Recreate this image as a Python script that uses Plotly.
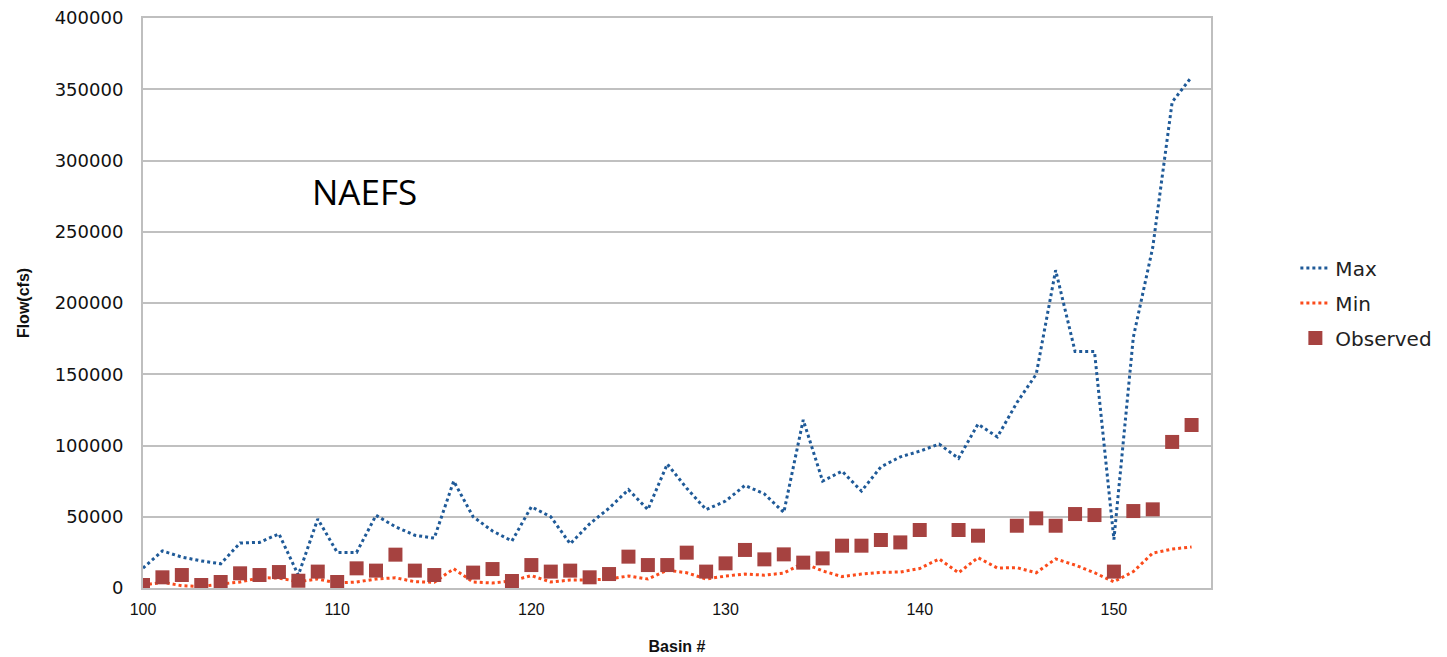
import plotly.graph_objects as go

basins = list(range(100, 155))

max_flow = [14000, 26000, 21700, 19000, 17000, 31600, 32000, 38000, 9000, 48500,
            25000, 25000, 51000, 43000, 37000, 35000, 75000, 50000, 40000, 33000,
            57000, 50000, 31000, 45000, 56000, 69000, 55000, 87000, 70000, 55000,
            61000, 72000, 66000, 53000, 118000, 75000, 82000, 68000, 85000, 92000,
            96000, 101000, 91000, 115000, 106000, 130000, 150000, 223000, 166000, 166000,
            34000, 176000, 239000, 341000, 358600]

min_flow = [2000, 4000, 1600, 1000, 2800, 4200, 7200, 7000, 4400, 6300,
            3500, 4200, 6300, 7200, 4400, 4000, 13500, 4200, 3500, 5000,
            8700, 4200, 5600, 5600, 6300, 8400, 6300, 12500, 10700, 6300,
            8400, 9800, 9000, 10500, 17500, 12000, 8000, 9800, 11000, 11200,
            13700, 20400, 10700, 21300, 14000, 14300, 10700, 20400, 16100, 10700,
            4400, 11500, 24500, 27300, 28800]

observed = [2100, 7500, 9100, 2100, 4200, 10300, 9100, 11200, 5100, 11500,
            4200, 13800, 12200, 23400, 12200, 9100, None, 10800, 13300, 4900,
            16100, 11500, 12200, 7500, 9800, 22000, 16100, 16100, 24800, 11500,
            17300, 26700, 20100, 23600, 17800, 20800, 29700, 29700, 33700, 32000,
            40700, None, 40700, 36700, None, 43700, 48900, 43700, 51900, 51200,
            11500, 54000, 55200, 102500, 114400]

x_ticks = [100, 110, 120, 130, 140, 150]
y_ticks = [0, 50000, 100000, 150000, 200000, 250000, 300000, 350000, 400000]

fig = go.Figure()
fig.add_trace(go.Scatter(x=basins, y=max_flow, mode="lines", name="Max", legendgroup="a",
                         line=dict(color="#1f5a98", width=3, dash="dot")))
fig.add_trace(go.Scatter(x=basins, y=min_flow, mode="lines", name="Min", legendgroup="b",
                         line=dict(color="#fb4b1b", width=3, dash="dot")))
fig.add_trace(go.Scatter(x=basins, y=observed, mode="markers", name="Observed", legendgroup="c",
                         marker=dict(symbol="square", size=14, color="#a64240")))

fig.add_annotation(x=111.4, y=278000, xref="x", yref="y", text="NAEFS",
                   showarrow=False, font=dict(family="Open Sans", size=35, color="#000000"))

fig.update_layout(
    width=1439, height=649,
    margin=dict(l=135, r=234, t=10, b=69),
    plot_bgcolor="white", paper_bgcolor="white",
    showlegend=True,
    legend=dict(x=1.079, y=0.5, xanchor="left", yanchor="middle",
                font=dict(family="DejaVu Sans", size=20, color="#222222"),
                bgcolor="rgba(0,0,0,0)", tracegroupgap=6),
    xaxis=dict(range=[100, 155], tickvals=x_ticks, ticktext=[str(v) for v in x_ticks],
               showgrid=False, zeroline=False, showline=True, linecolor="#bfbfbf",
               linewidth=2, mirror=True, ticks="outside", ticklen=6,
               tickcolor="rgba(0,0,0,0)", automargin=False, ticklabeloverflow="allow",
               tickfont=dict(family="Liberation Sans", size=16, color="#111111"),
               title=dict(text="<b>Basin #</b>", font=dict(family="Liberation Sans", size=16, color="#111111"),
                          standoff=24)),
    yaxis=dict(range=[0, 400000], tickvals=y_ticks, ticktext=[str(v) for v in y_ticks],
               showgrid=True, gridcolor="#c0c0c0", gridwidth=2, zeroline=False,
               showline=True, linecolor="#bfbfbf", linewidth=2, mirror=True,
               ticks="outside", ticklen=14, tickcolor="rgba(0,0,0,0)", automargin=False,
               ticklabeloverflow="allow",
               tickfont=dict(family="DejaVu Sans", size=18, color="#111111"),
               title=dict(text="<b>Flow(cfs)</b>", font=dict(family="Liberation Sans", size=16, color="#111111"),
                          standoff=21)),
)

fig.write_html("out.html")
